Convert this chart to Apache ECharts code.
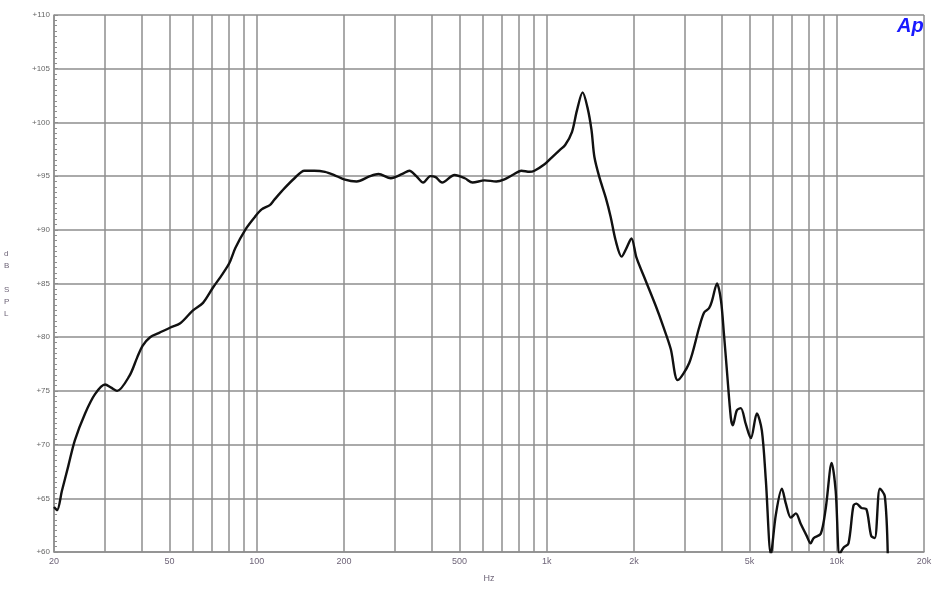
<!DOCTYPE html>
<html>
<head>
<meta charset="utf-8">
<script src="https://cdn.jsdelivr.net/npm/echarts@6/dist/echarts.min.js"></script>
<style>
html,body{margin:0;padding:0;background:#fff;}
#chart{width:942px;height:600px;}
</style>
</head>
<body>
<div id="chart"></div>
<script>
// Frequencies (Hz)
const freqs = [20, 20.5, 21.3, 22.4, 23.6, 25.6, 27.7, 30, 31.5, 33, 36.4, 38.7, 40.4, 42.9, 46.1, 50.4, 54.5, 60.3, 65.3, 70.6,
  76.3, 80.5, 84.4, 91.3, 98.6, 104, 111, 115, 125, 135, 146, 158, 172, 185, 200, 221, 246, 263, 290, 318,
  336, 355, 375, 397, 414, 436, 481, 522, 555, 611, 670, 715, 762, 818, 873, 907, 983, 1038, 1106, 1158,
  1222, 1271, 1330, 1382, 1427, 1460, 1519, 1598, 1662, 1729, 1812, 1884, 1960, 2040, 2191, 2378, 2515, 2678, 2830, 3100,
  3355, 3490, 3630, 3717, 3866, 3990, 4085, 4182, 4315, 4383, 4526, 4670, 4860, 5059, 5305, 5520, 5700, 5930, 6170, 6470,
  6680, 6950, 7230, 7520, 7880, 8130, 8330, 8810, 9170, 9610, 9920, 10230, 10550, 10980, 11420, 11700, 12170, 12650, 13150, 13530,
  14090, 14650, 15000];
// SPL (dB)
const spl = [64.2, 63.9, 65.7, 68.0, 70.4, 72.9, 74.7, 75.6, 75.3, 75.0, 76.4, 78.1, 79.2, 80.0, 80.4, 80.9, 81.3, 82.5, 83.2, 84.6,
  85.9, 86.9, 88.3, 90.0, 91.2, 91.9, 92.3, 92.8, 93.9, 94.8, 95.5, 95.5, 95.4, 95.1, 94.7, 94.5, 95.0, 95.2, 94.8, 95.2,
  95.5, 95.0, 94.4, 95.0, 94.9, 94.4, 95.1, 94.8, 94.4, 94.6, 94.5, 94.7, 95.1, 95.5, 95.4, 95.5, 96.1, 96.7, 97.4, 97.9,
  99.1, 101.1, 102.8, 101.4, 99.3, 96.8, 94.9, 93.0, 91.2, 89.0, 87.5, 88.3, 89.2, 87.4, 85.3, 82.9, 81.1, 78.9, 76.0, 77.6,
  80.9, 82.3, 82.7, 83.4, 85.0, 83.4, 80.3, 76.9, 72.5, 71.8, 73.2, 73.4, 71.9, 70.6, 72.9, 71.3, 66.6, 59.8, 63.5, 65.9,
  64.5, 63.2, 63.6, 62.6, 61.5, 60.8, 61.3, 61.7, 64.1, 68.3, 65.7, 59.8, 60.4, 60.8, 64.3, 64.5, 64.1, 64.0, 61.5, 61.3,
  65.9, 65.2, 59.8];
// Vertical grid frequencies
const gridFreqs = [20, 30, 40, 50, 60, 70, 80, 90, 100, 200, 300, 400, 500, 600, 700, 800, 900,
  1000, 2000, 3000, 4000, 5000, 6000, 7000, 8000, 9000, 10000, 20000];
// Labelled frequencies
const labelFreqs = [20, 50, 100, 200, 500, 1000, 2000, 5000, 10000, 20000];

const fmtHz = v => v >= 1000 ? (v / 1000) + 'k' : String(v);
const gridColor = '#8e8e8e';
const labelColor = '#6e6478';

const chart = echarts.init(document.getElementById('chart'));
chart.setOption({
  animation: false,
  backgroundColor: '#fff',
  grid: { left: 54, right: 18, top: 15, bottom: 48 },
  xAxis: {
    type: 'log', logBase: 10, min: 20, max: 20000,
    axisLine: { show: true, lineStyle: { color: gridColor, width: 1.5 } },
    axisTick: { show: false },
    axisLabel: { show: false },
    splitLine: { show: false },
    name: 'Hz', nameLocation: 'middle', nameGap: 22,
    nameTextStyle: { color: labelColor, fontSize: 9, fontFamily: 'Liberation Sans' }
  },
  yAxis: {
    type: 'value', min: 60, max: 110, interval: 5,
    axisLine: { show: true, lineStyle: { color: gridColor, width: 1.5 } },
    axisTick: { show: true, inside: true, length: 4, lineStyle: { color: gridColor } },
    minorTick: { show: true, splitNumber: 10, length: 3, lineStyle: { color: gridColor } },
    axisLabel: { formatter: v => '+' + v, color: '#666', fontSize: 8, fontFamily: 'Liberation Sans', margin: 4 },
    splitLine: { show: true, lineStyle: { color: gridColor, width: 1.5 } }
  },
  graphic: [
    { type: 'text', left: 4, top: 248, style: { text: 'd\nB\n \nS\nP\nL', fill: labelColor, font: '8px Liberation Sans', lineHeight: 12, align: 'left' } },
    { type: 'text', left: 897, top: 16, style: { text: 'Ap', fill: '#1a1aff', font: 'italic bold 20px Liberation Sans' } }
  ],
  series: [
    {
      type: 'line', data: [], silent: true,
      markLine: {
        silent: true, symbol: 'none', animation: false,
        lineStyle: { color: gridColor, width: 1.5, type: 'solid' },
        label: { show: true, position: 'start', distance: 5, color: labelColor, fontSize: 9, fontFamily: 'Liberation Sans' },
        data: gridFreqs.map(f => ({
          xAxis: f,
          label: { show: labelFreqs.indexOf(f) >= 0, formatter: fmtHz(f) }
        }))
      }
    },
    {
      type: 'line', smooth: 0.3, showSymbol: false, clip: true,
      lineStyle: { color: '#111', width: 2.4 },
      data: freqs.map((f, i) => [f, spl[i]]),
      z: 5
    }
  ]
});
</script>
</body>
</html>
